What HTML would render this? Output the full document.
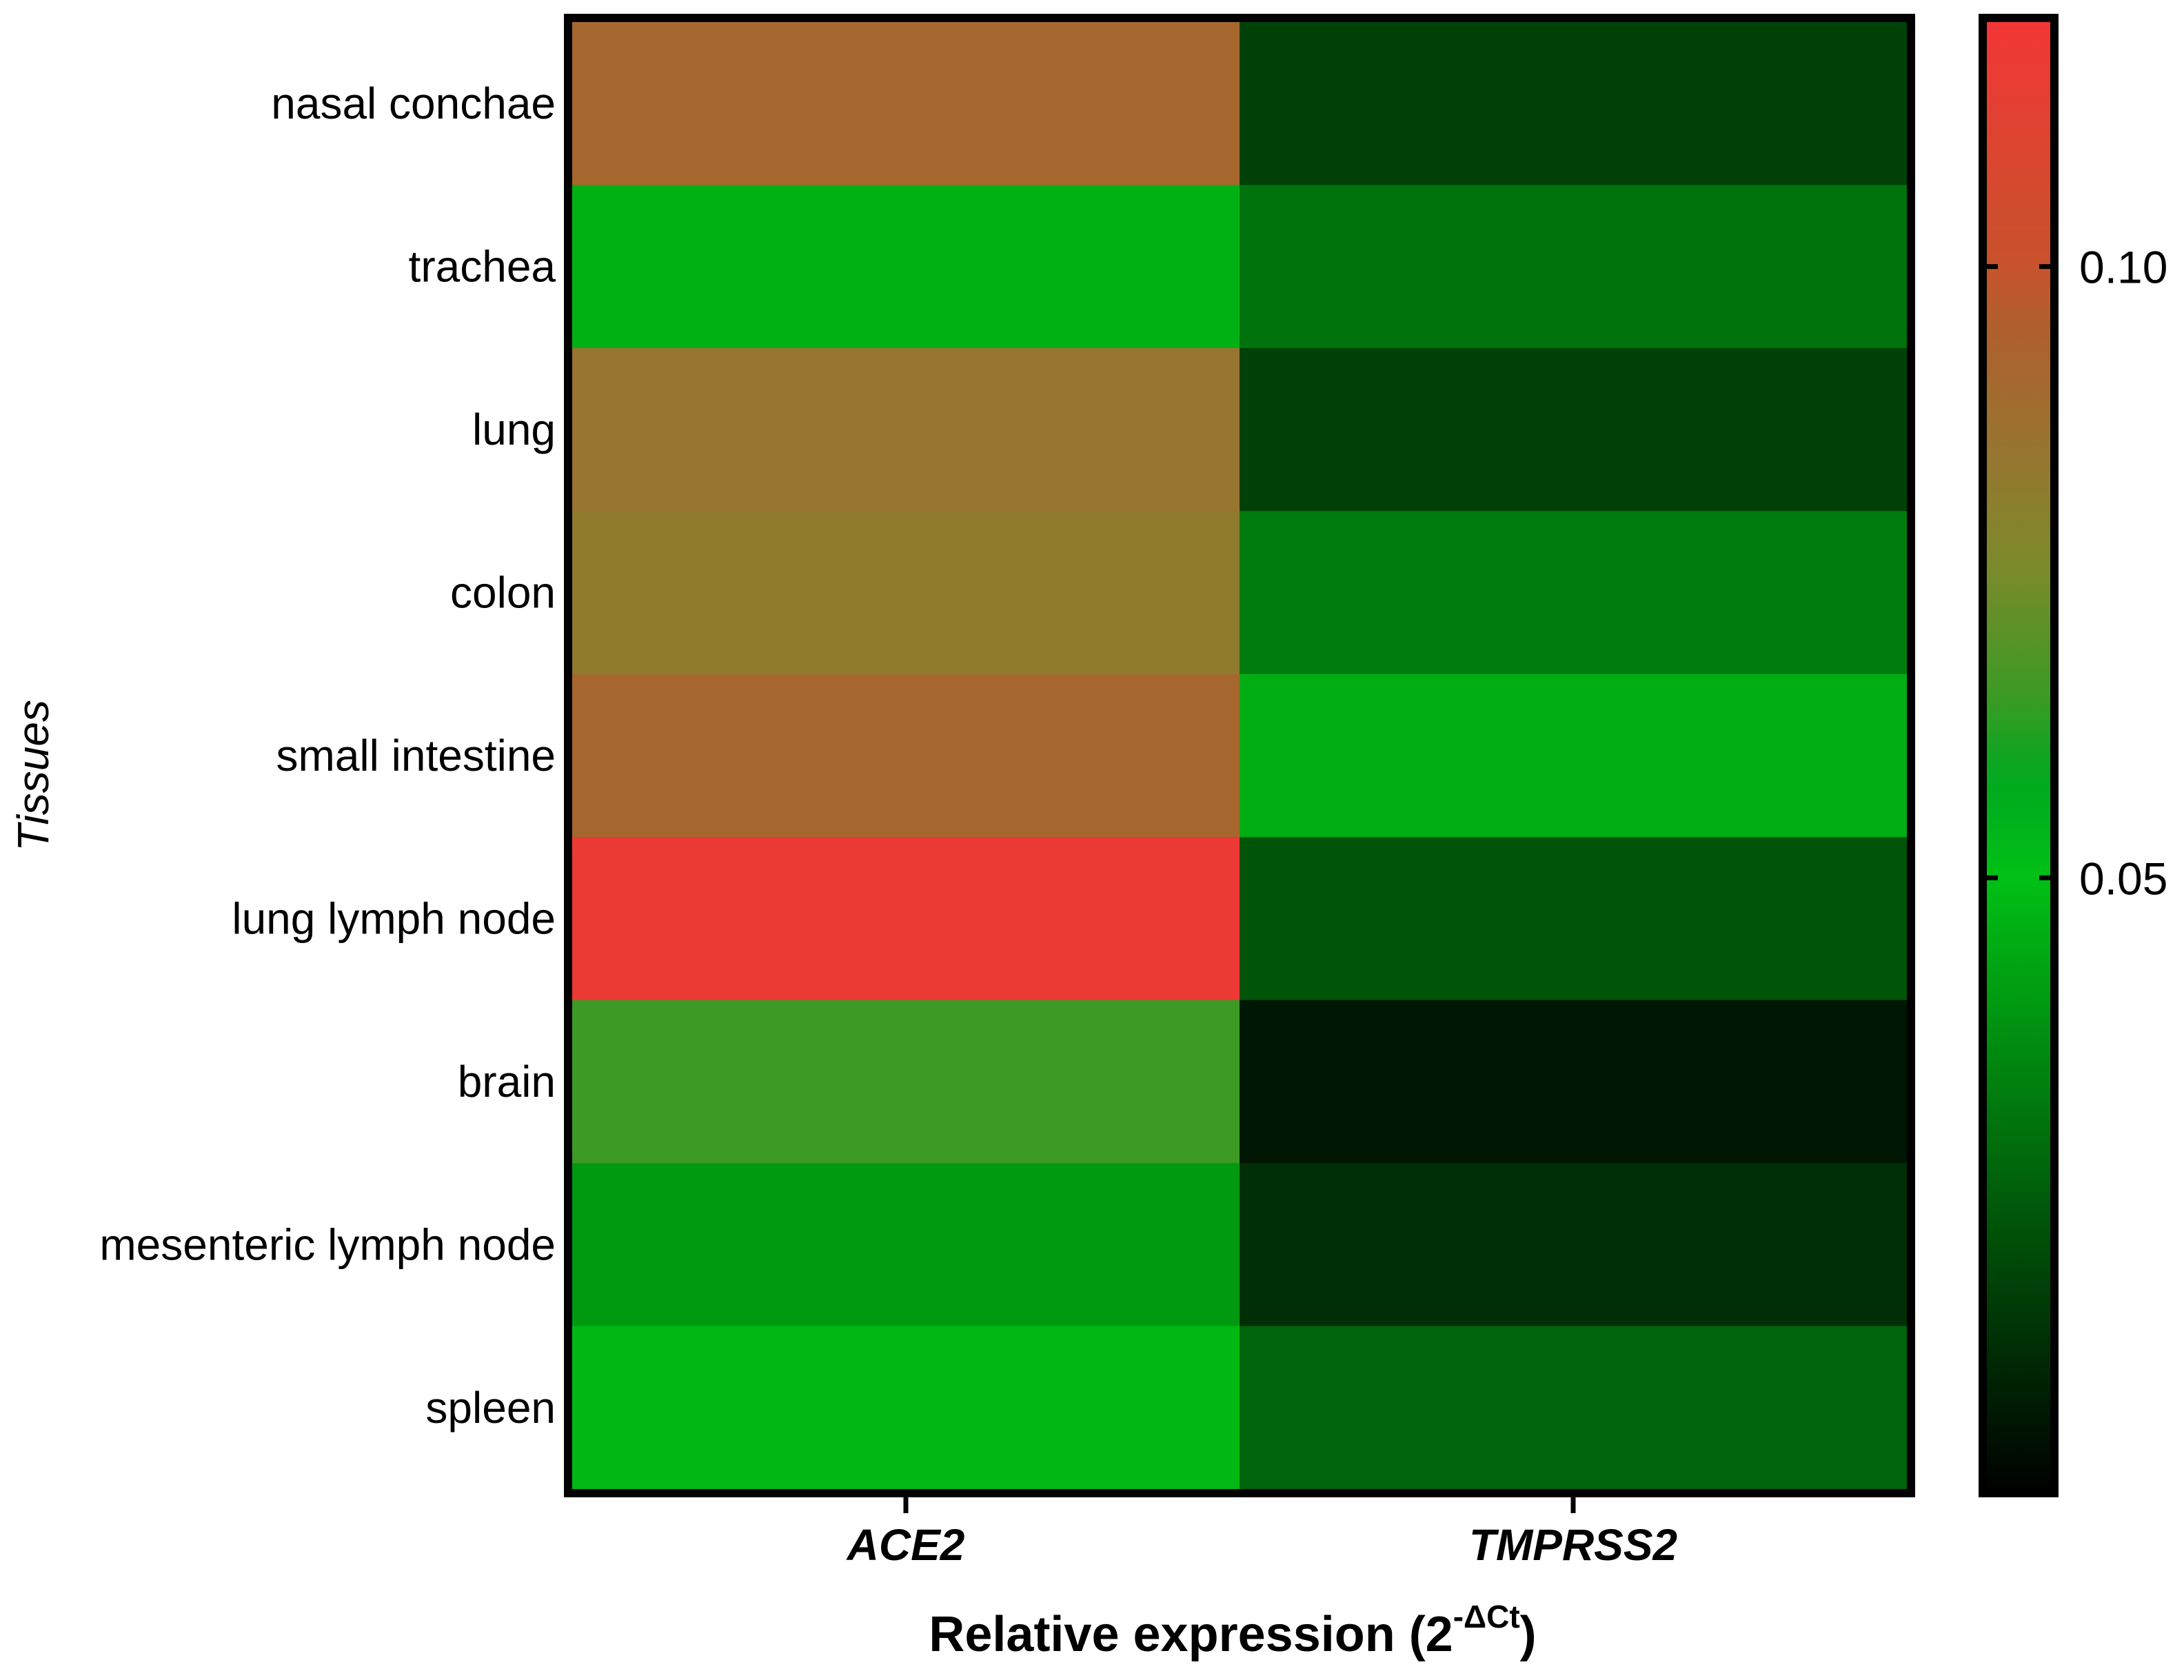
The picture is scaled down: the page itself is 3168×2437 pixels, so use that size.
<!DOCTYPE html>
<html><head><meta charset="utf-8"><style>
html,body{margin:0;padding:0;background:#fff}
svg{display:block}
text{font-family:"Liberation Sans",Arial,sans-serif;fill:#000}
</style></head><body>
<svg id="chart" width="3168" height="2437" viewBox="0 0 3168 2437" xmlns="http://www.w3.org/2000/svg">
<defs><linearGradient id="cbgrad" x1="0" y1="1" x2="0" y2="0"></linearGradient></defs>
<g id="cells"></g>
<g id="rowlabels"></g>
<g id="collabels"></g>
<rect x="824" y="26" width="1948" height="2140" fill="none" stroke="#000" stroke-width="12"/>
<rect id="cbrect" x="2876" y="26" width="104" height="2140" fill="url(#cbgrad)" stroke="#000" stroke-width="12"/>
<g id="cbticks"></g>
<text x="100" y="1125" font-size="64" font-style="italic" text-anchor="middle" transform="rotate(-90 100 1125)" dy="-30">Tissues</text>
<text x="1788" y="2395" font-size="72" font-weight="bold" text-anchor="middle">Relative expression (2<tspan font-size="46" dy="-34">-ΔCt</tspan><tspan dy="34">)</tspan></text>
</svg>
<script>
const tissues = ["nasal conchae","trachea","lung","colon","small intestine","lung lymph node","brain","mesenteric lymph node","spleen"];
const genes = ["ACE2","TMPRSS2"];
const ace2Values = [0.091,0.046,0.085,0.082,0.091,0.117,0.065,0.040,0.048];
const tmprss2Values = [0.017,0.030,0.017,0.032,0.045,0.022,0.006,0.012,0.026];
const colorbarTicks = [0.05,0.10];
const colorbarTickLabels = ["0.05","0.10"];
const scaleMin = 0, scaleMax = 0.12;

const stops = [[0,[0,0,0]],[0.05,[0,192,21]],[0.058,[0,168,32]],[0.065,[60,154,37]],[0.075,[122,138,42]],[0.085,[152,117,48]],[0.095,[176,94,44]],[0.10,[200,82,44]],[0.12,[242,53,53]]];
function color(v){
  v=Math.max(scaleMin,Math.min(scaleMax,v));
  for(let i=1;i<stops.length;i++){
    if(v<=stops[i][0]){const a=stops[i-1],b=stops[i];const t=(v-a[0])/(b[0]-a[0]);
      const c=a[1].map((x,k)=>Math.round(x+(b[1][k]-x)*t));return `rgb(${c[0]},${c[1]},${c[2]})`;}
  }
  return 'rgb(242,53,53)';
}
const NS="http://www.w3.org/2000/svg";
const plotL=830, plotR=2766, plotT=32, plotB=2160;
const colW=(plotR-plotL)/genes.length, rowH=(plotB-plotT)/tissues.length;
const xPos=i=>plotL+i*colW, yPos=j=>plotT+j*rowH;
const cbTop=32, cbBot=2160;
const cbY=v=>cbBot-(v-scaleMin)/(scaleMax-scaleMin)*(cbBot-cbTop);
const series=[ace2Values,tmprss2Values];
const cells=document.getElementById('cells');
series.forEach((vals,gi)=>{vals.forEach((v,ti)=>{
  const r=document.createElementNS(NS,'rect');
  r.setAttribute('x',xPos(gi));r.setAttribute('y',yPos(ti));
  r.setAttribute('width',colW+0.5);r.setAttribute('height',rowH+0.5);
  r.setAttribute('fill',color(v));
  
  
  cells.appendChild(r);
});});
const rl=document.getElementById('rowlabels');
tissues.forEach((t,ti)=>{
  const tx=document.createElementNS(NS,'text');
  tx.setAttribute('x',806);tx.setAttribute('y',yPos(ti)+rowH/2+22);
  tx.setAttribute('font-size','64');tx.setAttribute('text-anchor','end');
  tx.textContent=t;
  
  
  rl.appendChild(tx);
});
const cl=document.getElementById('collabels');
genes.forEach((g,gi)=>{
  const cx=xPos(gi)+colW/2;
  const tk=document.createElementNS(NS,'line');
  tk.setAttribute('x1',cx);tk.setAttribute('x2',cx);tk.setAttribute('y1',2170);tk.setAttribute('y2',2195);
  tk.setAttribute('stroke','#000');tk.setAttribute('stroke-width','7');
  
  
  cl.appendChild(tk);
  const tx=document.createElementNS(NS,'text');
  tx.setAttribute('x',cx);tx.setAttribute('y',2263);
  tx.setAttribute('font-size','64');tx.setAttribute('font-weight','bold');tx.setAttribute('font-style','italic');
  tx.setAttribute('text-anchor','middle');tx.textContent=g;
  
  
  cl.appendChild(tx);
});
const grad=document.getElementById('cbgrad');
for(let i=0;i<=48;i++){
  const v=scaleMin+(scaleMax-scaleMin)*i/48;
  const s=document.createElementNS(NS,'stop');
  s.setAttribute('offset',(i/48));s.setAttribute('stop-color',color(v));
  grad.appendChild(s);
}
const cbt=document.getElementById('cbticks');
colorbarTicks.forEach((v,i)=>{
  const y=cbY(v);
  [[2882,2898],[2958,2974]].forEach(p=>{
    const l=document.createElementNS(NS,'line');
    l.setAttribute('x1',p[0]);l.setAttribute('x2',p[1]);l.setAttribute('y1',y);l.setAttribute('y2',y);
    l.setAttribute('stroke','#000');l.setAttribute('stroke-width','7');
    
    
    cbt.appendChild(l);
  });
  const tx=document.createElementNS(NS,'text');
  tx.setAttribute('x',3016);tx.setAttribute('y',y+24);tx.setAttribute('font-size','66');
  tx.textContent=colorbarTickLabels[i];
  
  
  cbt.appendChild(tx);
});
</script>
</body></html>
